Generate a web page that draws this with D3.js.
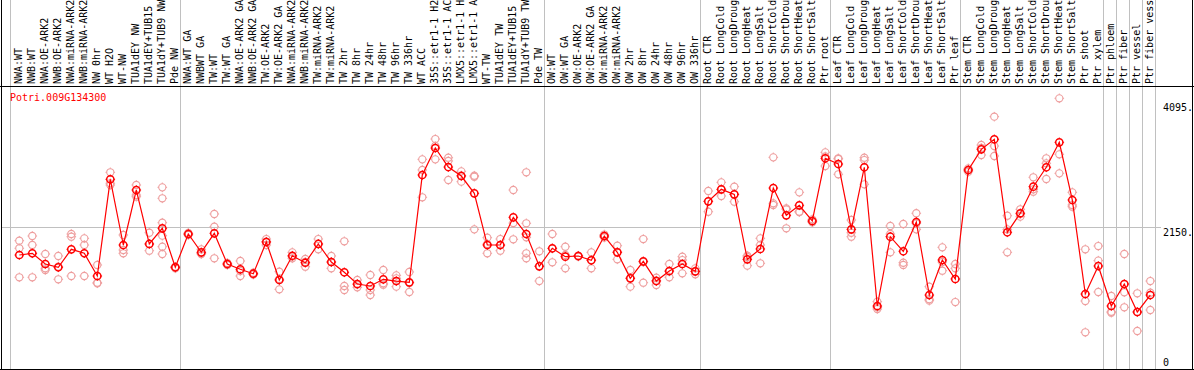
<!DOCTYPE html>
<html>
<head>
<meta charset="utf-8">
<script src="https://cdn.jsdelivr.net/npm/d3@7"></script>
<style>
  body { margin: 0; background: #fff; }
  text { font-family: "DejaVu Sans Mono", monospace; font-size: 10px; }
</style>
</head>
<body>
<div id="container"></div>
<script>
// ---------------------------------------------------------------- //
// Data

var gene = 'Potri.009G134300';

var samples = [
  'NWA:WT', 'NWB:WT', 'NWA:OE-ARK2', 'NWB:OE-ARK2', 'NWA:miRNA-ARK2', 'NWB:miRNA-ARK2', 'NW 0hr', 'WT H2O', 'WT-NW',
  'TUA1dEY NW', 'TUA1dEY+TUB15', 'TUA1dY+TUB9 NW', 'Pde NW',
  'NWA:WT GA', 'NWBWT GA', 'TW:WT', 'TW:WT GA', 'NWA:OE-ARK2 GA', 'NWB:OE-ARK2 GA', 'TW:OE-ARK2', 'TW:OE-ARK2 GA',
  'NWA:miRNA-ARK2', 'NWB:miRNA-ARK2', 'TW:miRNA-ARK2', 'TW:miRNA-ARK2', 'TW 2hr', 'TW 8hr', 'TW 24hr', 'TW 48hr',
  'TW 96hr', 'TW 336hr', 'WT ACC', '35S::etr1-1 H2', '35S::etr1-1 AC', 'LMX5::etr1-1 H', 'LMX5::etr1-1 A', 'WT-TW',
  'TUA1dEY TW', 'TUA1dEY+TUB15', 'TUA1dY+TUB9 TW', 'Pde TW',
  'OW:WT', 'OW:WT GA', 'OW:OE-ARK2', 'OW:OE-ARK2 GA', 'OW:miRNA-ARK2', 'OW:miRNA-ARK2', 'OW 2hr', 'OW 8hr', 'OW 24hr',
  'OW 48hr', 'OW 96hr', 'OW 336hr',
  'Root CTR', 'Root LongCold', 'Root LongDroug', 'Root LongHeat', 'Root LongSalt', 'Root ShortCold', 'Root ShortDrou',
  'Root ShortHeat', 'Root ShortSalt', 'Ptr root',
  'Leaf CTR', 'Leaf LongCold', 'Leaf LongDroug', 'Leaf LongHeat', 'Leaf LongSalt', 'Leaf ShortCold', 'Leaf ShortDrou',
  'Leaf ShortHeat', 'Leaf ShortSalt', 'Ptr leaf',
  'Stem CTR', 'Stem LongCold', 'Stem LongDroug', 'Stem LongHeat', 'Stem LongSalt', 'Stem ShortCold', 'Stem ShortDrou',
  'Stem ShortHeat', 'Stem ShortSalt', 'Ptr shoot', 'Ptr xylem', 'Ptr phloem', 'Ptr fiber', 'Ptr vessel', 'Ptr fiber vess'
];

// last sample index of each group (a grey divider follows it)
var groupEnds = [12, 40, 52, 62, 72, 83, 84, 85, 86, 87];

var means = [
  1728, 1755, 1588, 1537, 1817, 1755, 1401, 2907, 1884, 2740, 1900, 2144, 1537,
  2055, 1770, 2066, 1588, 1506, 1437, 1931, 1339, 1717, 1608, 1900, 1619, 1459, 1277, 1246, 1350,
  1323, 1303, 2974, 3394, 3098, 2958, 2689, 1884, 1884, 2315, 2055, 1552,
  1833, 1702, 1713, 1646, 2024, 1770, 1365, 1630, 1323, 1479, 1588, 1474,
  2564, 2751, 2673, 1661, 1822, 2771, 2346, 2502, 2258, 3234,
  3145, 2128, 3094, 934, 2013, 1786, 2242, 1105, 1650, 1355,
  3052, 3374, 3530, 2082, 2378, 2792, 3094, 3483, 2585, 1121, 1557, 934, 1277, 841, 1105
];

var replicates = [
  [1951, 1833, 1381], [2024, 1884, 1381], [1744, 1521, 1495], [1713, 1548, 1350], [2055, 2013, 1401],
  [1988, 1884, 1401], [1573, 1297, 1288], [3016, 2845, 2818], [2040, 1806, 1755], [2818, 2662, 2636],
  [2075, 1900, 1795], [2782, 2611, 2231, 2029, 1857, 1744], [1546, 1521, 1541],
  [2055, 2071, 2040], [1817, 1744, 1752], [2367, 2169, 1677], [1604, 1573, 1588], [1635, 1401, 1479],
  [1453, 1432, 1424], [1977, 1935, 1884], [1468, 1194, 1355], [1770, 1677, 1705], [1666, 1546, 1619],
  [1977, 1817, 1900], [1713, 1521, 1619], [1942, 1246, 1183], [1339, 1225, 1269], [1417, 1183, 1105],
  [1495, 1288, 1266], [1412, 1365, 1235], [1464, 1152, 1292], [3218, 3052, 2627], [3534, 3218, 3425],
  [3243, 3192, 2896], [3031, 2870, 2966], [2963, 2947, 2128], [1998, 1755, 1900], [1977, 1795, 1879],
  [2740, 1973, 2226], [3016, 2222, 2004, 1755, 1677], [1786, 1323, 1557],
  [2055, 1615, 1830], [1857, 1521, 1728], [1717, 1705, 1713], [1770, 1521, 1650], [2024, 2047, 2001],
  [1873, 1661, 1775], [1495, 1235, 1370], [1977, 1297, 1619], [1375, 1261, 1331], [1588, 1381, 1471],
  [1702, 1650, 1443], [1521, 1428, 1471],
  [2725, 2402, 2564], [2860, 2647, 2748], [2792, 2558, 2670], [1717, 1562, 1697], [1988, 1884, 1599],
  [3249, 2533, 2507], [2455, 2144, 2437], [2704, 2402, 2398], [2284, 2237, 2253], [3327, 3114, 3262],
  [3234, 2985, 3223], [2273, 2075, 2013], [3243, 3207, 2829], [914, 887, 1001], [2180, 2055, 1770],
  [2211, 1608, 1573], [2378, 2128, 2219], [1235, 1039, 1017], [1848, 1484, 1619], [1588, 1521, 996],
  [3078, 3025, 3052], [3441, 3285, 3394], [3882, 3425, 3270], [2340, 2128, 1770], [2440, 2325, 2367],
  [2938, 2751, 2714], [3234, 3156, 2912], [4168, 3296, 3000], [2704, 2507, 2480], [1817, 1012, 525],
  [1868, 1640, 1152], [1090, 845, 830], [1744, 1148, 914], [1132, 545, 841], [1323, 1141, 872]
];

var yTicks = [0, 2150, 4095];
var yTickLabels = ['0', '2150.', '4095.'];

// ---------------------------------------------------------------- //
// Layout

var width = 1194, height = 370;
var headerY = 86, bottomY = 369;
var grey = '#c0c0c0', pink = '#ee9e9e', red = '#ff0000';

var svg = d3.select('#container').append('svg')
  .attr('width', width).attr('height', height)
  .style('display', 'block');

var xScale = d3.scaleLinear().domain([0, samples.length - 1]).range([19.3, 1150.3]);
var yScale = d3.scaleLinear().domain([0, 4095]).range([366, 103]);

// grid
svg.append('line').attr('x1', 1).attr('x2', 1161).attr('y1', yScale(2150)).attr('y2', yScale(2150))
  .style('stroke', grey).style('shape-rendering', 'crispEdges');

svg.append('line').attr('x1', 10.5).attr('x2', 10.5).attr('y1', 0).attr('y2', bottomY)
  .style('stroke', grey);

svg.selectAll('.divider').data(groupEnds).enter().append('line')
  .attr('class', 'divider')
  .attr('x1', function(d){ return Math.round(xScale(d) + 5) + 0.5; })
  .attr('x2', function(d){ return Math.round(xScale(d) + 5) + 0.5; })
  .attr('y1', 0).attr('y2', bottomY)
  .style('stroke', grey);

// frame
svg.append('line').attr('x1', 0).attr('x2', width).attr('y1', headerY + 0.5).attr('y2', headerY + 0.5).style('stroke', '#000');
svg.append('line').attr('x1', 0).attr('x2', width).attr('y1', bottomY + 0.5).attr('y2', bottomY + 0.5).style('stroke', '#000');
svg.append('line').attr('x1', 1.5).attr('x2', 1.5).attr('y1', 0).attr('y2', height).style('stroke', '#000');
svg.append('line').attr('x1', 1192.5).attr('x2', 1192.5).attr('y1', 0).attr('y2', height).style('stroke', '#000');

// sample labels
svg.selectAll('.sample').data(samples).enter().append('text')
  .attr('class', 'sample')
  .attr('transform', function(d, i){ return 'translate(' + (xScale(i) + 3) + ',' + (headerY - 2) + ') rotate(-90)'; })
  .style('fill', '#000')
  .text(function(d){ return d; });

// y axis labels
svg.selectAll('.ytick').data(yTicks).enter().append('text')
  .attr('class', 'ytick')
  .attr('x', 1163)
  .attr('y', function(d){ return d === 0 ? yScale(d) : yScale(d) + 8; })
  .style('fill', '#000')
  .text(function(d, i){ return yTickLabels[i]; });

// title
svg.append('text').attr('x', 10).attr('y', 101).style('fill', red).text(gene);

// ---------------------------------------------------------------- //
// Marks

function marker(g, r, color, sw){
  g.append('circle').attr('r', r).style('fill', 'none').style('stroke', color).style('stroke-width', sw);
  g.append('path')
    .attr('d', 'M0,' + (-r - 1.2) + 'V' + (-r) + 'M0,' + r + 'V' + (r + 1.2) +
               'M' + (-r - 1.2) + ',0H' + (-r) + 'M' + r + ',0H' + (r + 1.2))
    .style('stroke', color).style('stroke-width', 1);
}

var reps = [];
replicates.forEach(function(arr, i){ arr.forEach(function(v){ reps.push({ i: i, v: v }); }); });

svg.selectAll('.rep').data(reps).enter().append('g')
  .attr('class', 'rep')
  .attr('transform', function(d){ return 'translate(' + xScale(d.i) + ',' + yScale(d.v) + ')'; })
  .each(function(){ marker(d3.select(this), 3.6, pink, 1.1); });

var lineGen = d3.line().x(function(d, i){ return xScale(i); }).y(function(d){ return yScale(d); });
svg.append('path').attr('d', lineGen(means))
  .style('fill', 'none').style('stroke', red).style('stroke-width', 1.2);

svg.selectAll('.mean').data(means).enter().append('g')
  .attr('class', 'mean')
  .attr('transform', function(d, i){ return 'translate(' + xScale(i) + ',' + yScale(d) + ')'; })
  .each(function(){ marker(d3.select(this), 3.6, red, 1.5); });
</script>
</body>
</html>
